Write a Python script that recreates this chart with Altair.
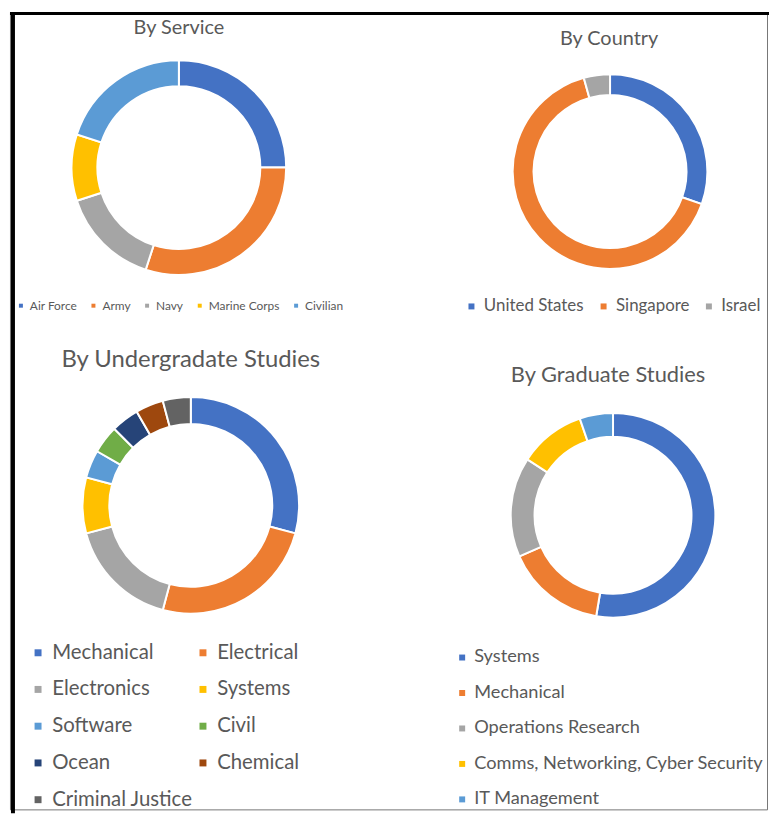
import altair as alt
import pandas as pd

FONT = "Lato"
TXT = "#595959"

# ---- data ----
service_cats = ["Air Force", "Army", "Navy", "Marine Corps", "Civilian"]
service_vals = [5, 6, 3, 2, 4]
service_cols = ["#4472C4", "#ED7D31", "#A5A5A5", "#FFC000", "#5B9BD5"]

country_cats = ["United States", "Singapore", "Israel"]
country_vals = [7, 15, 1]
country_cols = ["#4472C4", "#ED7D31", "#A5A5A5"]

ug_cats = ["Mechanical", "Electrical", "Electronics", "Systems", "Software",
           "Civil", "Ocean", "Chemical", "Criminal Justice"]
ug_vals = [7, 6, 4, 2, 1, 1, 1, 1, 1]
ug_cols = ["#4472C4", "#ED7D31", "#A5A5A5", "#FFC000", "#5B9BD5",
           "#70AD47", "#264478", "#9E480E", "#636363"]

grad_cats = ["Systems", "Mechanical", "Operations Research",
             "Comms, Networking, Cyber Security", "IT Management"]
grad_vals = [10, 3, 3, 2, 1]
grad_cols = ["#4472C4", "#ED7D31", "#A5A5A5", "#FFC000", "#5B9BD5"]

titles = ["By Service", "By Country", "By Undergradate Studies", "By Graduate Studies"]

W, H = 766, 806


def donut(cats, vals, cols, cx, cy, r_out, r_in, legend):
    df = pd.DataFrame({"cat": cats, "val": vals, "ord": list(range(len(cats)))})
    return alt.Chart(df).mark_arc(
        outerRadius=r_out, innerRadius=r_in, stroke="white", strokeWidth=2
    ).encode(
        theta=alt.Theta("val:Q", stack=True),
        order=alt.Order("ord:Q"),
        color=alt.Color("cat:N", scale=alt.Scale(domain=cats, range=cols),
                        sort=cats, legend=legend),
        x=alt.value(cx),
        y=alt.value(cy),
    )


def title_text(t, tx, ty, size):
    df = pd.DataFrame({"t": [t]})
    return alt.Chart(df).mark_text(
        font=FONT, fontSize=size, color=TXT, align="center", baseline="middle"
    ).encode(text="t:N", x=alt.value(tx), y=alt.value(ty))


def leg(x, y, size, sym, direction, columns=None, rowpad=0, colpad=10, off=3):
    kw = dict(orient="none", legendX=x, legendY=y, title=None, direction=direction,
              labelFont=FONT, labelFontSize=size, labelColor=TXT, labelLimit=500,
              symbolType="square", symbolSize=sym, symbolStrokeWidth=0,
              rowPadding=rowpad, columnPadding=colpad, labelOffset=off)
    if columns is not None:
        kw["columns"] = columns
    return alt.Legend(**kw)


l1 = donut(service_cats, service_vals, service_cols, 170, 156, 108, 82,
           leg(5, 289, 12, 16, "horizontal", colpad=10, off=3))
l2 = donut(country_cats, country_vals, country_cols, 604, 160, 98, 77,
           leg(456, 287, 17, 36, "horizontal", colpad=11, off=4))
l3 = donut(ug_cats, ug_vals, ug_cols, 182, 496, 109, 82,
           leg(18, 634, 20.5, 49, "horizontal", columns=2, rowpad=16, colpad=0, off=4))
l4 = donut(grad_cats, grad_vals, grad_cols, 607, 506, 103, 79,
           leg(446, 640, 18.3, 36, "vertical", rowpad=16.7, off=3))

t1 = title_text(titles[0], 170, 16, 20)
t2 = title_text(titles[1], 603, 27, 20)
t3 = title_text(titles[2], 182, 350, 24)
t4 = title_text(titles[3], 602, 365, 22)

frame_df = pd.DataFrame({"k": [0]})
left_rule = alt.Chart(frame_df).mark_rule(color="black", strokeWidth=4).encode(
    x=alt.value(3), y=alt.value(0), y2=alt.value(H))
top_rule = alt.Chart(frame_df).mark_rule(color="black", strokeWidth=3).encode(
    x=alt.value(0), x2=alt.value(W), y=alt.value(1))

chart = alt.layer(l1, l2, l3, l4, t1, t2, t3, t4, left_rule, top_rule).resolve_scale(
    color="independent", theta="independent"
).properties(
    width=W, height=H, padding=0,
    autosize=alt.AutoSizeParams(type="fit", contains="padding"),
    background="white",
).configure_view(stroke="#777777", strokeWidth=1)

chart.save("out.html", embed_options={"renderer": "svg", "actions": False})
